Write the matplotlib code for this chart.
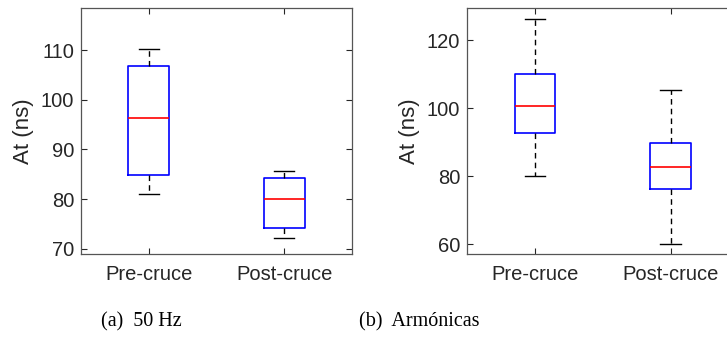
import matplotlib.pyplot as plt

labels = ['Pre-cruce', 'Post-cruce']

# 50 Hz: [whislo, q1, med, q3, whishi]
hz50_pre = [81.1, 84.9, 96.3, 106.7, 110.2]
hz50_post = [72.2, 74.2, 80.0, 84.2, 85.7]

# Armonicas
arm_pre = [80.1, 92.8, 100.5, 110.1, 126.2]
arm_post = [60.0, 76.2, 82.6, 89.9, 105.3]

captions = ['(a)  50 Hz', '(b)  Armónicas']

plt.rcParams['font.family'] = ['Liberation Sans', 'DejaVu Sans']
txt = '#262626'


def stats(vals, lab):
    return dict(whislo=vals[0], q1=vals[1], med=vals[2], q3=vals[3],
                whishi=vals[4], label=lab, fliers=[])


def draw(ax, pre, post, ylim, yticks):
    ax.bxp([stats(pre, labels[0]), stats(post, labels[1])], positions=[1, 2],
           widths=0.3, showfliers=False,
           boxprops=dict(color='#0000ff', linewidth=1.2),
           medianprops=dict(color='#ff0000', linewidth=1.2),
           whiskerprops=dict(color='black', linewidth=1.0, linestyle=(0, (4, 3))),
           capprops=dict(color='black', linewidth=1.0))
    ax.set_xlim(0.5, 2.5)
    ax.set_ylim(*ylim)
    ax.set_yticks(yticks)
    ax.set_ylabel('At (ns)', fontsize=16, color=txt, labelpad=5)
    ax.tick_params(direction='in', top=True, right=True, length=4,
                   labelsize=14.5, colors=txt, pad=5)
    ax.tick_params(axis='x', pad=8)
    for s in ax.spines.values():
        s.set_color('#555555')
        s.set_linewidth(0.9)


fig = plt.figure(figsize=(7.27, 3.39), dpi=100)
ax1 = fig.add_axes([81 / 727, 84.7 / 339, 271 / 727, 246.5 / 339])
ax2 = fig.add_axes([467.3 / 727, 84.7 / 339, 271 / 727, 246.5 / 339])

draw(ax1, hz50_pre, hz50_post, (68.9, 118.5), [70, 80, 90, 100, 110])
draw(ax2, arm_pre, arm_post, (57.05, 129.5), [60, 80, 100, 120])

fig.text(141 / 727, 1 - 321.7 / 339, captions[0], ha='center', va='center',
         fontsize=14.5, family='Liberation Serif', color='black')
fig.text(419 / 727, 1 - 321.7 / 339, captions[1], ha='center', va='center',
         fontsize=14.5, family='Liberation Serif', color='black')

fig.savefig('out.png', dpi=100)
